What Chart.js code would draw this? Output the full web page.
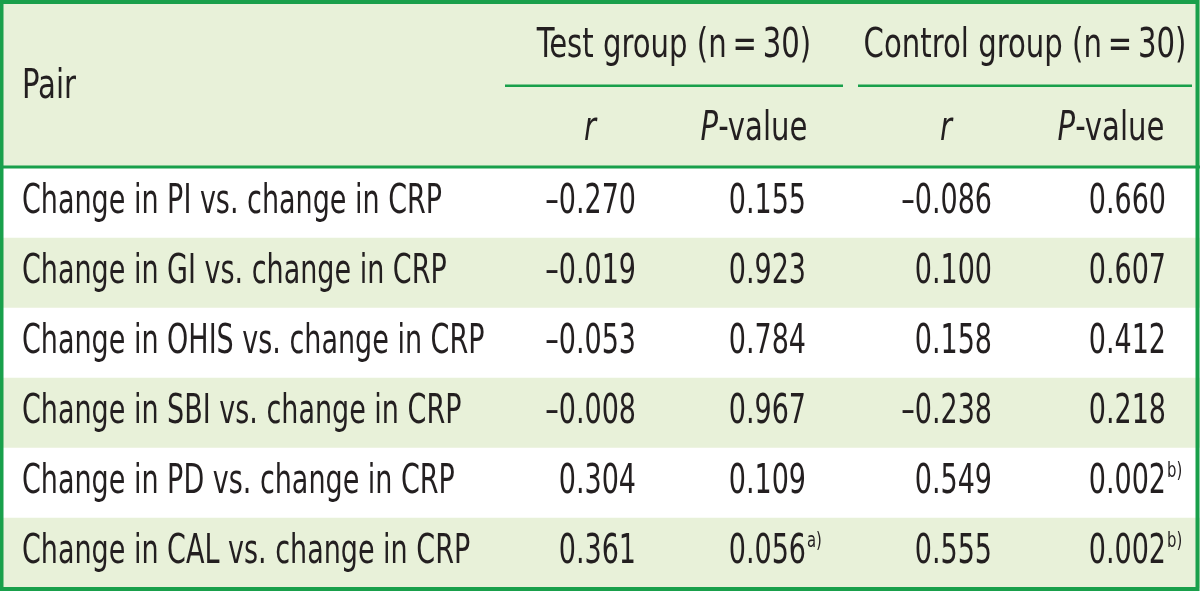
<!DOCTYPE html>
<html>
<head>
<meta charset="utf-8">
<script src="https://cdn.jsdelivr.net/npm/chart.js@4"></script>
<style>
  html, body { margin: 0; padding: 0; background: #ffffff; }
  #wrap { width: 1200px; height: 591px; }
</style>
</head>
<body>
<div id="wrap"><canvas id="tableChart" width="1200" height="591"></canvas></div>
<script>
const rowLabels = [
    'Change in PI vs. change in CRP',
    'Change in GI vs. change in CRP',
    'Change in OHIS vs. change in CRP',
    'Change in SBI vs. change in CRP',
    'Change in PD vs. change in CRP',
    'Change in CAL vs. change in CRP'
];
const testR = [-0.270, -0.019, -0.053, -0.008, 0.304, 0.361];
const testP = [0.155, 0.923, 0.784, 0.967, 0.109, 0.056];
const testPNote = ['', '', '', '', '', 'a)'];
const controlR = [-0.086, 0.100, 0.158, -0.238, 0.549, 0.555];
const controlP = [0.660, 0.607, 0.412, 0.218, 0.002, 0.002];
const controlPNote = ['', '', '', '', 'b)', 'b)'];
const groupLabels = ['Test group (n\u2009=\u200930)', 'Control group (n\u2009=\u200930)'];

// layout
const GREEN = '#19a04b';
const LIGHT = '#e8f1d9';
const INK = '#231f20';
const FONT = '"DejaVu Sans Condensed", "Liberation Sans Narrow", "Liberation Sans", sans-serif';
const SX = 0.75;       // horizontal squeeze for body text
const HSX = 0.81;      // header text is a little wider
const FS = 40;
const colRight = [636, 806, 992, 1166];   // right edge of number columns
const colHead = [590, 754, 946, 1111];    // centre of r / P-value heads
const groupSpan = [[505, 843], [858, 1192]];

function fmt(v) {
    return (v < 0 ? '\u2013' : '') + Math.abs(v).toFixed(3);
}

function drawText(ctx, str, x, y, align, italic, size, sx) {
    sx = sx || SX;
    ctx.save();
    ctx.font = (italic ? 'italic ' : '') + (size || FS) + 'px ' + FONT;
    ctx.textBaseline = 'middle';
    const w = ctx.measureText(str).width * sx;
    let left = x;
    if (align === 'right') left = x - w;
    if (align === 'center') left = x - w / 2;
    ctx.translate(left, y);
    ctx.scale(sx, 1);
    ctx.textAlign = 'left';
    ctx.fillStyle = INK;
    ctx.fillText(str, 0, 0);
    ctx.restore();
    return w;
}

function textWidth(ctx, str, italic, size, sx) {
    ctx.save();
    ctx.font = (italic ? 'italic ' : '') + (size || FS) + 'px ' + FONT;
    const w = ctx.measureText(str).width * (sx || SX);
    ctx.restore();
    return w;
}

const tablePlugin = {
    id: 'tablePlugin',
    beforeDraw(chart) {
        const ctx = chart.ctx;
        const top = chart.chartArea.top;
        ctx.save();
        ctx.fillStyle = '#ffffff';
        ctx.fillRect(0, 0, chart.width, chart.height);
        ctx.fillStyle = LIGHT;
        ctx.fillRect(0, 0, chart.width, top);
        ctx.restore();
    },
    afterDatasetsDraw(chart) {
        const ctx = chart.ctx;
        const x = chart.scales.x;
        const y = chart.scales.y;
        const top = chart.chartArea.top;

        // header
        drawText(ctx, 'Pair', x.getPixelForValue(22), top * 0.52, 'left', false, FS, HSX);
        groupLabels.forEach((g, i) => {
            const a = x.getPixelForValue(groupSpan[i][0]);
            const b = x.getPixelForValue(groupSpan[i][1]);
            drawText(ctx, g, (a + b) / 2, top * 0.28, 'center', false, FS, HSX);
            ctx.save();
            ctx.strokeStyle = GREEN;
            ctx.lineWidth = 2.5;
            ctx.beginPath();
            ctx.moveTo(a, top * 0.51);
            ctx.lineTo(b, top * 0.51);
            ctx.stroke();
            ctx.restore();
        });
        colHead.forEach((c, i) => {
            const cx = x.getPixelForValue(c);
            const yy = top * 0.77;
            if (i % 2 === 0) {
                drawText(ctx, 'r', cx, yy, 'center', true, FS, HSX);
            } else {
                const w1 = textWidth(ctx, 'P', true, FS, HSX);
                const w2 = textWidth(ctx, '-value', false, FS, HSX);
                const left = cx - (w1 + w2) / 2;
                drawText(ctx, 'P', left, yy, 'left', true, FS, HSX);
                drawText(ctx, '-value', left + w1, yy, 'left', false, FS, HSX);
            }
        });

        // body
        rowLabels.forEach((lab, i) => {
            const cy = y.getPixelForValue(i);
            drawText(ctx, lab, x.getPixelForValue(22), cy, 'left');
            const cells = [
                [fmt(testR[i]), ''],
                [fmt(testP[i]), testPNote[i]],
                [fmt(controlR[i]), ''],
                [fmt(controlP[i]), controlPNote[i]]
            ];
            cells.forEach((c, j) => {
                const rx = x.getPixelForValue(colRight[j]);
                drawText(ctx, c[0], rx, cy, 'right');
                if (c[1]) drawText(ctx, c[1], rx + 1, cy - 12, 'left', false, 22);
            });
        });

        // rules and frame
        ctx.save();
        ctx.strokeStyle = GREEN;
        ctx.lineWidth = 3;
        ctx.beginPath();
        ctx.moveTo(0, top - 1);
        ctx.lineTo(chart.width, top - 1);
        ctx.stroke();
        ctx.lineWidth = 4;
        ctx.strokeRect(1.5, 2, chart.width - 4, chart.height - 4);
        ctx.restore();
    }
};

const xMin = 0;
const xMax = 1200;

new Chart(document.getElementById('tableChart'), {
    type: 'bar',
    data: {
        labels: rowLabels,
        datasets: [{
            data: rowLabels.map(() => [xMin, xMax]),
            backgroundColor: rowLabels.map((_, i) => i % 2 === 0 ? '#ffffff' : LIGHT),
            borderWidth: 0,
            barPercentage: 1,
            categoryPercentage: 1
        }]
    },
    options: {
        indexAxis: 'y',
        responsive: false,
        animation: false,
        events: [],
        layout: {
            padding: { top: 168, bottom: 3, left: 0, right: 0 }
        },
        plugins: {
            legend: { display: false },
            tooltip: { enabled: false }
        },
        scales: {
            x: { type: 'linear', min: xMin, max: xMax, display: false },
            y: { type: 'category', display: false }
        }
    },
    plugins: [tablePlugin]
});
</script>
</body>
</html>
